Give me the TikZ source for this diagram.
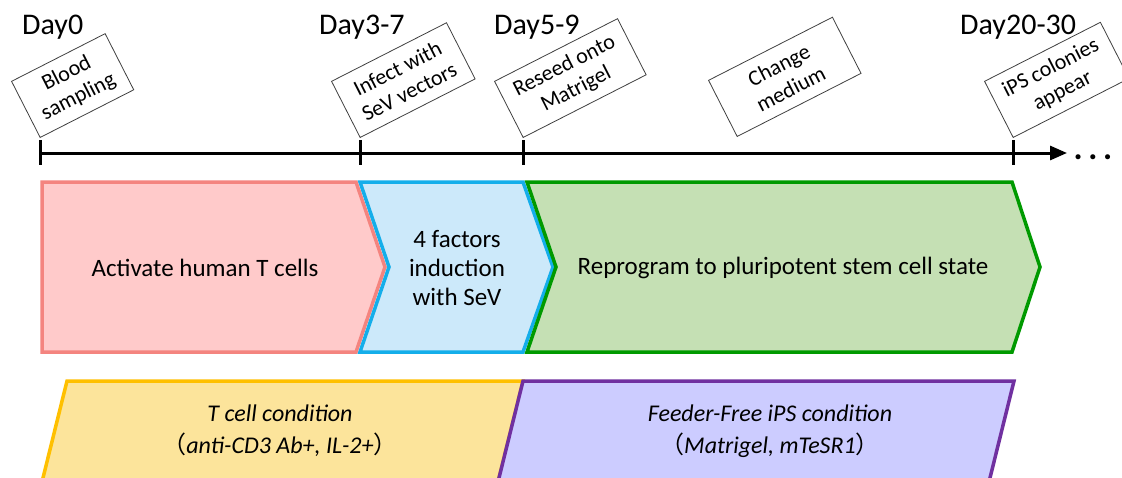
\documentclass[tikz,border=0pt]{standalone}
\usepackage{fontspec}
\setmainfont{Carlito}
\newfontfamily\cjkfont{Noto Sans CJK SC}
\usetikzlibrary{arrows.meta}
\definecolor{pinkfill}{HTML}{FFCACA}
\definecolor{pinkline}{HTML}{F4847F}
\definecolor{bluefill}{HTML}{CCE9FA}
\definecolor{blueline}{HTML}{14AEEA}
\definecolor{greenfill}{HTML}{C5E0B4}
\definecolor{greenline}{HTML}{009A00}
\definecolor{yellowfill}{HTML}{FCE49B}
\definecolor{yellowline}{HTML}{FFC000}
\definecolor{purplefill}{HTML}{CCCCFF}
\definecolor{purpleline}{HTML}{7030A0}
\begin{document}
\begin{tikzpicture}[x=1pt,y=-1pt,
  daylabel/.style={anchor=base west, inner sep=0pt, font=\fontsize{30}{34}\selectfont},
  eventbox/.style={draw=black!75, line width=0.8pt, rotate=27, anchor=south west,
    align=center, font=\fontsize{22}{26}\selectfont, minimum height=63pt, inner sep=2pt},
  phase/.style={line width=3.5pt, line join=miter},
  phasetext/.style={align=center, font=\fontsize{25}{29}\selectfont},
  condtext/.style={align=center, font=\fontsize{24}{32}\selectfont\itshape},
  ticklines/.style={line width=3pt}
]
\useasboundingbox (0,0) rectangle (1122,477);
\clip (0,0) rectangle (1122,477);
\fill[white] (0,0) rectangle (1122,477);

% timeline
\coordinate (t0) at (40,153);
\coordinate (t1) at (360,153);
\coordinate (t2) at (523,153);
\coordinate (t3) at (1013,153);
\coordinate (tend) at (1067,153);
\draw[line width=3pt,-{Triangle[length=17pt,width=14pt]}] (t0) -- (tend);
\foreach \t in {t0,t1,t2,t3}
  \draw[ticklines] ([yshift=13pt]\t) -- ([yshift=-12pt]\t);
\node[anchor=base, inner sep=0pt, font=\fontsize{34}{38}\selectfont\bfseries] (dots) at (1093,159) {.\,.\,.};

% day labels
\node[daylabel] (d0) at (22,34) {Day0};
\node[daylabel] (d1) at (319,34) {Day3-7};
\node[daylabel] (d2) at (494,34) {Day5-9};
\node[daylabel] (d3) at (960,34) {Day20-30};

% event boxes
\node[eventbox, minimum width=105pt] (e0) at ([yshift=15pt]t0) {Blood\\sampling};
\node[eventbox, minimum width=129pt] (e1) at ([yshift=15pt]t1) {Infect with\\SeV vectors};
\node[eventbox, minimum width=138pt] (e2) at ([yshift=15pt]t2) {Reseed onto\\Matrigel};
\node[eventbox, minimum width=139pt] (e3) at (737,137) {Change\\medium};
\node[eventbox, minimum width=130pt] (e4) at ([yshift=15pt]t3) {iPS colonies\\appear};

% phases
\path[phase, draw=pinkline, fill=pinkfill] (42,182) -- (356,182) -- (385,267) -- (356,352) -- (42,352) -- cycle;
\path[phase, draw=blueline, fill=bluefill] (360,182) -- (523,182) -- (553,267) -- (523,352) -- (360,352) -- (389,267) -- cycle;
\path[phase, draw=greenline, fill=greenfill] (527,182) -- (1012,182) -- (1040,267) -- (1012,352) -- (527,352) -- (556,267) -- cycle;
\node[phasetext] (p0) at (205,268) {Activate human T cells};
\node[phasetext] (p1) at (457,268) {4 factors\\induction\\with SeV};
\node[phasetext] (p2) at (783,268) {Reprogram to pluripotent stem cell state};

% conditions
\path[phase, draw=yellowline, fill=yellowfill] (67,381) -- (523,381) -- (496,490) -- (40,490) -- cycle;
\path[phase, draw=purpleline, fill=purplefill] (523,381) -- (1014,381) -- (987,490) -- (496,490) -- cycle;
\node[condtext] (c0) at (280,431) {T cell condition\\{\cjkfont （}anti-CD3 Ab+, IL-2+{\cjkfont ）}};
\node[condtext] (c1) at (770,431) {Feeder-Free iPS condition\\{\cjkfont （}Matrigel, mTeSR1{\cjkfont ）}};
\end{tikzpicture}
\end{document}
